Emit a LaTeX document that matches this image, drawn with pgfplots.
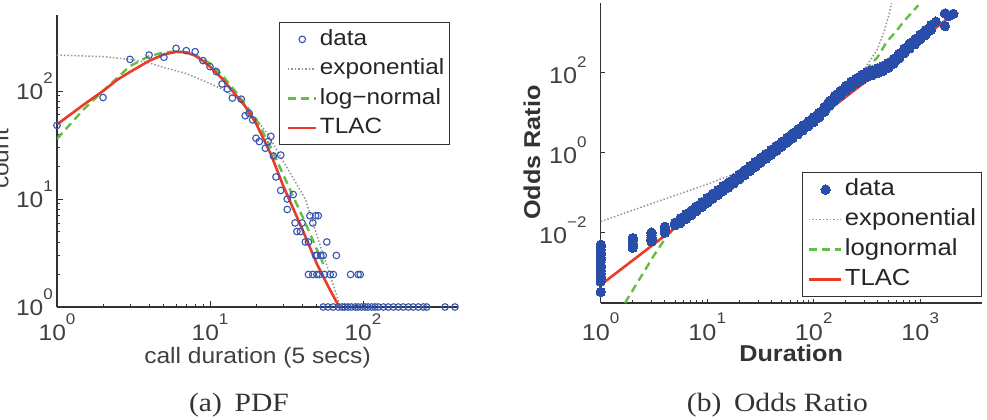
\documentclass[border=0pt]{standalone}
\usepackage{pgfplots}
\usepackage{pgfplotstable}
\pgfplotsset{compat=1.18}
\usepackage{fontspec}
\setmainfont{Liberation Sans}[FakeStretch=1.1]
\newfontfamily\capfont{Liberation Serif}[FakeStretch=1.12]
\definecolor{dblue}{RGB}{52,86,176}
\definecolor{fblue}{RGB}{40,78,170}
\definecolor{tred}{RGB}{236,58,40}
\definecolor{lgreen}{RGB}{100,190,70}
\definecolor{egray}{RGB}{150,150,150}
\definecolor{axc}{RGB}{50,50,50}
\definecolor{txt}{RGB}{64,64,64}
\newcommand\tp[1]{10\raisebox{0.7em}{\fontsize{15.5}{15.5}\selectfont #1}}
\pgfplotsset{
  markimgA/.style={legend image code/.code={\path[draw=none] (0bp,0bp) -- (34bp,0bp); \path[##1, draw=none] plot[only marks] coordinates {(20.7bp,0bp)};}},
  lineimgA/.style={legend image code/.code={\path[draw=none] (0bp,0bp) -- (34bp,0bp); \draw[##1] (6bp,0bp) -- (34bp,0bp);}},
  markimgB/.style={legend image code/.code={\path[draw=none] (0bp,0bp) -- (36.3bp,0bp); \path[##1, draw=none] plot[only marks] coordinates {(21.3bp,0bp)};}},
  lineimgB/.style={legend image code/.code={\path[draw=none] (0bp,0bp) -- (36.3bp,0bp); \draw[##1] (4.3bp,0bp) -- (36.3bp,0bp);}},
}

\pgfplotstableread{
x y
1 0.0049
1 0.0043
1 0.0037
1 0.0032
1 0.0028
1 0.0024
1 0.0021
1 0.0018
1 0.0015
1 0.0013
1 0.0011
1 0.00095
1 0.0008
1 0.00068
1 0.00058
1 0.00032
2 0.0072
2 0.0062
2 0.0053
2 0.0046
2 0.0041
3 0.0098
3 0.0085
3 0.0074
3 0.0065
3 0.0059
4 0.0138
4 0.012
4 0.0105
4 0.0098
5 0.0174
5 0.015
5 0.016
5.6 0.0225
5.6 0.0171
6.3 0.0285
6.3 0.0216
7.1 0.0353
7.1 0.0268
7.9 0.0447
7.9 0.0339
8.9 0.0565
8.9 0.0429
10 0.0716
10 0.0543
11.2 0.0907
11.2 0.0688
12.6 0.1148
12.6 0.0871
14.1 0.1454
14.1 0.1103
15.8 0.1758
15.8 0.1334
17.8 0.2226
17.8 0.1689
20 0.2818
20 0.2138
22.4 0.3568
22.4 0.2707
25.1 0.4519
25.1 0.3428
28.2 0.572
28.2 0.434
31.6 0.7244
31.6 0.5495
35.5 0.917
35.5 0.696
39.8 1.161
39.8 0.881
44.7 1.471
44.7 1.116
50.1 1.862
50.1 1.413
56.2 2.358
56.2 1.789
63.1 2.985
63.1 2.265
70.8 3.78
70.8 2.868
79.4 4.786
79.4 3.631
89.1 6.06
89.1 4.597
100 7.674
100 5.821
112 9.94
112 7.54
126 13.8
126 10.47
141 19.61
141 14.88
158 26.6
158 20.18
178 35.3
178 26.8
200 46.8
200 35.5
224 59.2
224 44.9
251 71.6
251 54.3
282 88.0
282 66.0
316 102.3
316 77.6
355 115.5
355 87.6
398 130.3
398 98.9
447 147.1
447 111.6
501 173.8
501 131.8
562 220
562 167
631 298.5
631 226.5
708 405
708 307
794 537
794 407
891 680
891 516
1000 902
1000 684
1122 1168
1122 886
1259 1549
1259 1175
1400 1900
1710 1470
1710 3055
1850 2600
2047 3000
}\oddsdata

\begin{document}
\begin{tikzpicture}
\path[use as bounding box] (0bp,0bp) rectangle (987bp,-420bp);
% ---------------- left panel ----------------
\begin{axis}[
  scale only axis, xmode=log, ymode=log, enlargelimits=false,
  axis lines=left, axis line style={-, line width=1.2bp, draw=axc},
  tick align=inside, tick style={draw=axc, line width=0.9bp},
  major tick length=6bp, minor tick length=3bp,
  ticklabel style={text=txt, inner sep=0pt},
  legend cell align=left,
  at={(57bp,-307bp)}, anchor=south west,
  width=401bp, height=292bp,
  xmin=1, xmax=418, ymin=1, ymax=505,
  font=\fontsize{22.4}{26}\selectfont,
  xtick={1,10,100}, xticklabels={\tp{0},\tp{1},\tp{2}},
  ytick={1,10,100}, yticklabels={\tp{0},\tp{1},\tp{2}},
  xticklabel style={anchor=base, yshift=-33bp},
  yticklabel style={anchor=base east, xshift=-4bp, yshift=-8.5bp},
  xlabel={call duration (5 secs)},
  xlabel style={at={(axis description cs:0.5,-0.1918)}, anchor=base, text=txt},
  ylabel={count},
  ylabel style={at={(axis description cs:-0.121,0.507)}, anchor=base, text=txt},
  legend style={at={(axis description cs:0.5536,0.976)}, anchor=north west,
    draw=axc, line width=1.2bp, fill=white, inner sep=2bp,
    font=\fontsize{22.2}{26}\selectfont,
    nodes={inner xsep=3bp, inner ysep=2bp, text height=18.5bp, text depth=7bp, text=black!85},
    /tikz/every even column/.append style={column sep=4bp}},
]
\addplot[only marks, mark=o, mark size=3.3bp, mark options={draw=dblue, line width=1.1bp}, markimgA]
coordinates {
(1,48) (2,87) (3,196) (4,215) (5,205) (6,248) (7,236) (8,231) (9,191) (10,168)
(11,151) (12,116) (13,104) (14,86) (16,84) (17,59) (18,62) (19,54) (20,36.5) (21,34)
(23,29.5) (24,34) (25,38) (27,16) (26,25) (29,25.5) (29,12) (32,10) (35,11) (32,8)
(36,6) (40,6) (37,5) (39,5) (42,4) (44,4) (45,7) (49,7) (51,7) (47,6) (58,4)
(49,3) (50,3) (53,3) (55,3) (67,3)
(44,2) (47,2) (50,2) (52,2) (56,2) (61,2) (64,2) (83,2) (93,2) (96,2)
(55,1) (59,1) (64,1) (69,1) (73,1) (76,1) (80,1) (84,1) (89,1) (93,1) (98,1) (103,1)
(108,1) (114,1) (120,1) (126,1) (136,1) (146,1) (158,1) (170,1) (183,1) (198,1)
(213,1) (230,1) (248,1) (261,1) (344,1) (399,1)
};
\addlegendentry{data}
\addplot[egray, line width=1.5bp, dash pattern=on 1.5bp off 2bp, lineimgA]
coordinates {
(1,215) (2,208) (3,196) (4,182) (5,165) (7,145) (9,125) (12,104) (15,86) (18,65)
(20,55) (23.5,41) (30,22.6) (35,15.6) (42,10) (50,4.6) (60,2.1) (65,1.5) (71,1)
};
\addlegendentry{exponential}
\addplot[lgreen, line width=2.4bp, dash pattern=on 8bp off 5bp, lineimgA]
coordinates {
(1,36) (1.5,68) (2,100) (3,170) (4,210) (5,228) (6,232) (7,228) (8,215) (10,180)
(12,140) (15,95) (20,55) (25,30) (30,17) (35,10.5) (40,7) (45,4.8) (50,3.4) (55,2.5)
};
\addlegendentry{log−normal}
\addplot[tred, line width=2.6bp, lineimgA]
coordinates {
(1,49) (1.5,75) (2,100) (2.5,128) (3,150) (4,190) (5,218) (6,230) (7,228) (8,212)
(9,190) (10,168) (12,130) (14,100) (17,72) (20,50) (25,26) (30,13.4) (40,5.3)
(50,2.5) (60,1.5) (70,1)
};
\addlegendentry{TLAC}
\end{axis}
% ---------------- right panel ----------------
\begin{axis}[
  scale only axis, xmode=log, ymode=log, enlargelimits=false,
  axis lines=left, axis line style={-, line width=1.2bp, draw=axc},
  tick align=inside, tick style={draw=axc, line width=0.9bp},
  major tick length=4bp, minor tick length=3bp,
  ticklabel style={text=txt, inner sep=0pt},
  legend cell align=left,
  at={(600.7bp,-303bp)}, anchor=south west,
  width=381bp, height=300bp,
  xmin=1, xmax=3780, ymin=1.69e-4, ymax=5585,
  font=\fontsize{23}{27}\selectfont,
  xtick={1,10,100,1000}, xticklabels={\tp{0},\tp{1},\tp{2},\tp{3}},
  ytick={0.01,1,100}, yticklabels={\tp{−2},\tp{0},\tp{2}},
  minor y tick num=0,
  xticklabel style={anchor=base, yshift=-37bp},
  yticklabel style={anchor=base east, xshift=-14bp, yshift=-11bp},
  xlabel={\bfseries Duration},
  xlabel style={at={(axis description cs:0.5,-0.1957)}, anchor=base, text=black!80},
  ylabel={\bfseries Odds Ratio},
  ylabel style={at={(axis description cs:-0.1593,0.5017)}, anchor=base, text=black!80},
  legend style={at={(axis description cs:0.5276,0.4367)}, anchor=north west,
    draw=axc, line width=1.2bp, fill=white, inner sep=2bp,
    font=\fontsize{23.4}{27}\selectfont,
    nodes={inner xsep=3bp, inner ysep=2bp, text height=19bp, text depth=7bp, text=black!85},
    /tikz/every even column/.append style={column sep=2bp}},
]
\addplot[only marks, mark=*, mark size=4.7bp, mark options={draw=fblue, fill=fblue, line width=0pt}, markimgB]
table[x=x, y=y] {\oddsdata};
\addlegendentry{data}
\addplot[egray, line width=1.5bp, dash pattern=on 1.5bp off 2bp, lineimgB]
coordinates {
(1,0.0186) (3.16,0.055) (10,0.16) (21.9,0.363) (31.6,0.60) (50.1,1.58) (100,6.9)
(158,20) (224,55) (293,115) (338,204) (391,363) (451,955) (501,2455) (541,5890)
};
\addlegendentry{exponential}
\addplot[lgreen, line width=2.4bp, dash pattern=on 8bp off 5bp, lineimgB]
coordinates {
(1.69,1.7e-4) (2.0,3.55e-4) (2.51,9.55e-4) (3.16,2.63e-3) (4.17,7.94e-3) (6.31,0.024)
(10,0.0631) (20,0.251) (39.8,1.0) (100,6.31) (158,16.6) (251,60) (316,126) (338,155)
(398,245) (484,589) (603,1150) (694,1862) (960,4900)
};
\addlegendentry{lognormal}
\addplot[tred, line width=2.6bp, lineimgB]
coordinates {(1,4.8e-4) (1905,2506)};
\addlegendentry{TLAC}
\end{axis}
% captions
\node[font=\capfont\fontsize{26.5}{30}\selectfont, text=black!80, anchor=base] at (239bp,-411bp) {(a)\hspace{0.2em} PDF};
\node[font=\capfont\fontsize{26.5}{30}\selectfont, text=black!80, anchor=base] at (777.5bp,-411bp) {(b)\hspace{0.2em} Odds Ratio};
\end{tikzpicture}
\end{document}
